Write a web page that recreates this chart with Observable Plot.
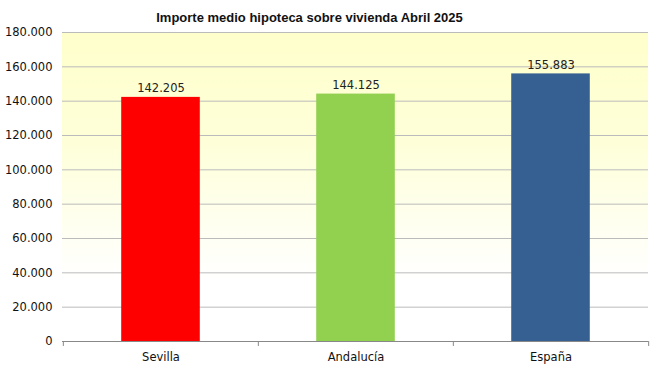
<!DOCTYPE html>
<html><head><meta charset="utf-8">
<script src="https://cdn.jsdelivr.net/npm/d3@7"></script>
<script src="https://cdn.jsdelivr.net/npm/@observablehq/plot@0.6"></script>
<style>body{margin:0;background:#fff}</style>
</head><body><div id="chart"></div>
<script>
const title = "Importe medio hipoteca sobre vivienda Abril 2025";
const categories = ["Sevilla", "Andalucía", "España"];
const values = [142205, 144125, 155883];
const colors = ["#FF0000", "#92D050", "#376092"];
const yTicks = [0, 20000, 40000, 60000, 80000, 100000, 120000, 140000, 160000, 180000];

const data = categories.map((c, i) => ({cat: c, value: values[i], color: colors[i]}));
const fmt = d => d3.format(",")(d).replace(/,/g, ".");

const W = 658, H = 372, mL = 62, mR = 10, mT = 32, mB = 31;
const band = (W - mL - mR) / categories.length;

const chart = Plot.plot({
  width: W, height: H,
  marginLeft: mL, marginRight: mR, marginTop: mT, marginBottom: mB,
  style: {fontFamily: "DejaVu Sans", fontSize: "11px", color: "#111", background: "transparent"},
  x: {domain: categories, padding: 0, label: null},
  y: {domain: [0, 180000], label: null},
  marks: [
    () => {
      const ns = "http://www.w3.org/2000/svg";
      const g = document.createElementNS(ns, "g");
      const defs = document.createElementNS(ns, "defs");
      defs.innerHTML = `<linearGradient id="bg" x1="0" y1="0" x2="0" y2="1">
        <stop offset="0" stop-color="#FFFFCC"/>
        <stop offset="0.35" stop-color="#FEFFD8"/>
        <stop offset="0.8" stop-color="#FFFFFF"/>
        </linearGradient>`;
      g.appendChild(defs);
      const r = document.createElementNS(ns, "rect");
      r.setAttribute("x", mL); r.setAttribute("y", mT);
      r.setAttribute("width", W - mL - mR); r.setAttribute("height", H - mT - mB);
      r.setAttribute("fill", "url(#bg)");
      g.appendChild(r);
      return g;
    },
    Plot.ruleY(yTicks.filter(d => d > 0), {stroke: "#BBBBBB", strokeWidth: 1}),
    Plot.barY(data, {x: "cat", y: "value", fill: "color", insetLeft: band * 0.298, insetRight: band * 0.298}),
    Plot.text(data, {x: "cat", y: "value", text: d => fmt(d.value), dy: -9, fill: "#222", fontSize: 11.5}),
    Plot.ruleY([0], {stroke: "#888888"}),
    Plot.ruleX(categories, {x: d => d, y1: 0, y2: -2900, dx: -band / 2, stroke: "#888", clip: false}),
    Plot.ruleX(categories.slice(-1), {x: d => d, y1: 0, y2: -2900, dx: band / 2, stroke: "#888", clip: false}),
    Plot.axisY(yTicks, {tickSize: 0, tickPadding: 10, tickFormat: fmt, fontSize: 11.5}),
    Plot.axisX({tickSize: 0, tickPadding: 11, fontSize: 11.5}),
    Plot.text([title], {frameAnchor: "top", dy: -20, dx: -46, fontWeight: "bold", fontSize: 13, fontFamily: "Liberation Sans", fill: "#111"})
  ]
});

document.getElementById("chart").appendChild(chart);
</script></body></html>
